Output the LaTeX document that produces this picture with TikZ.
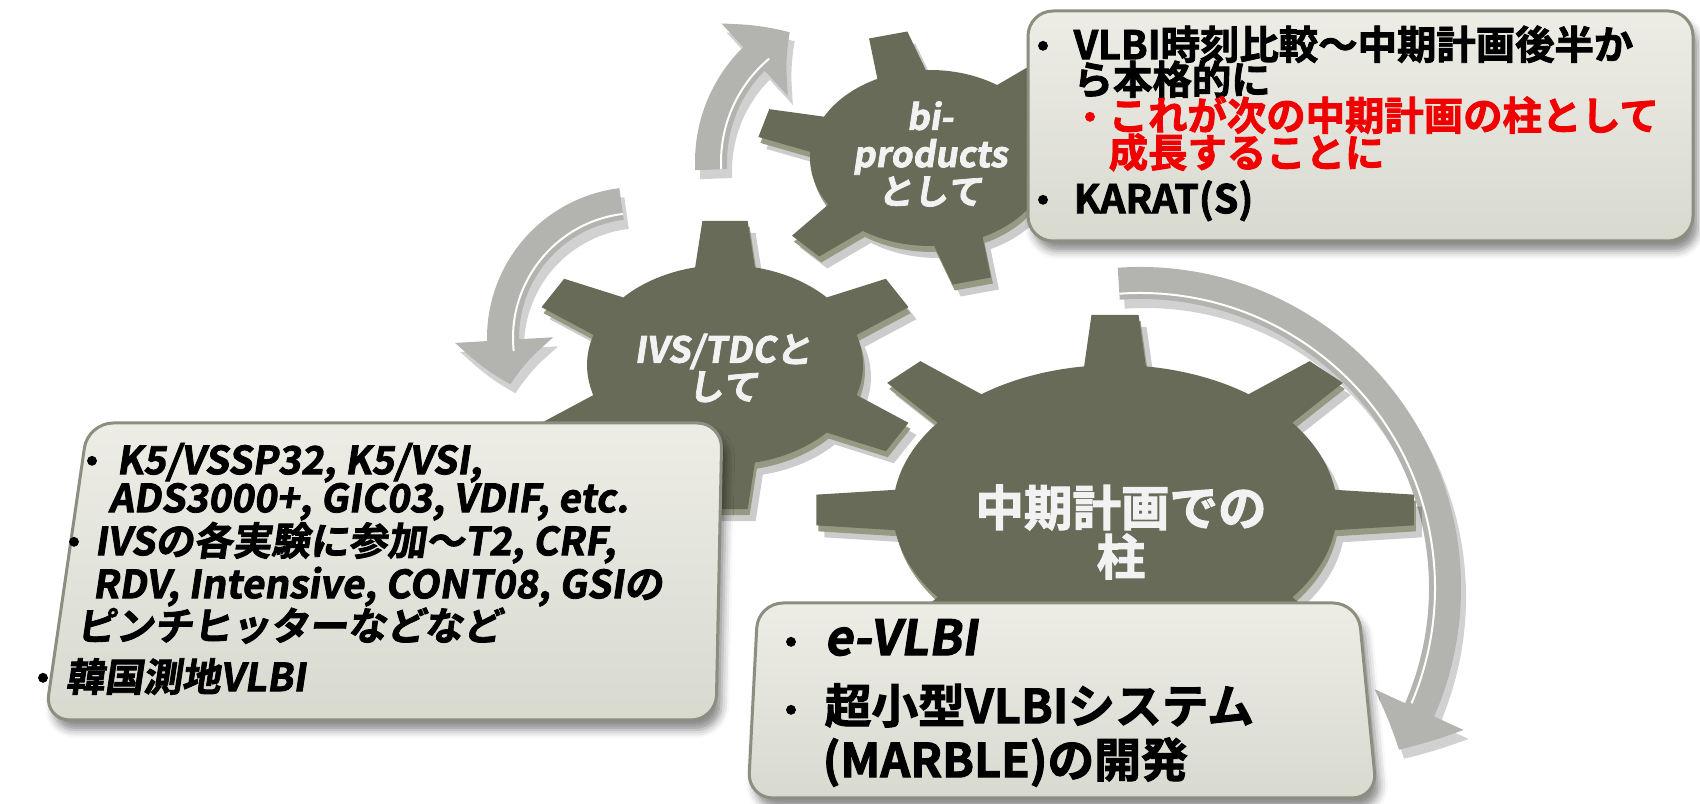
\documentclass[tikz,border=0pt]{standalone}
\usepackage{fontspec}
\setmainfont{Noto Sans CJK JP}
\newfontfamily\jpb{Noto Sans CJK JP}[UprightFont={* Bold}, FakeBold=2.2]
\newfontfamily\jpbi{Noto Sans CJK JP}[UprightFont={* Bold}, FakeBold=2.2, FakeSlant=0.15]
\usetikzlibrary{arrows.meta,bending,shadows.blur}
\definecolor{gearface}{HTML}{676B58}
\definecolor{gearside}{HTML}{969A82}
\definecolor{boxtop}{HTML}{EDEDE6}
\definecolor{boxbot}{HTML}{D8D9CF}
\definecolor{boxline}{HTML}{8C8F80}
\definecolor{arrowgray}{HTML}{B3B4B0}
\definecolor{txtred}{HTML}{F00000}
\newcommand{\gearpath}[8]{%
 \begin{scope}[shift={(#2,#3)},xscale=#4,yscale=#5]
  \pgfmathsetmacro{\gst}{360/\gn}
  \pgfmathtruncatemacro{\gnm}{\gn-1}
  \path[#1] ({#6-#7}:1)
   \foreach \k in {0,...,\gnm}{
     -- ({#6+\k*\gst-#8}:\grt) -- ({#6+\k*\gst+#8}:\grt) -- ({#6+\k*\gst+#7}:1)
     arc[start angle={#6+\k*\gst+#7}, end angle={#6+(\k+1)*\gst-#7}, radius=1]
   } -- cycle;
 \end{scope}}
\newcommand{\fullgear}[7]{%
 \gearpath{fill=black,opacity=0.2}{#1+8}{#2-12}{#3}{#4}{#5}{#6}{#7}%
 \gearpath{fill=gearside}{#1+2}{#2-6}{#3}{#4}{#5}{#6}{#7}%
 \gearpath{fill=gearface}{#1}{#2}{#3}{#4}{#5}{#6}{#7}}
\tikzset{
  arr/.style={draw=arrowgray, line width=0.32cm, -{Triangle[width=0.95cm, length=0.45cm, bend]}},
  arrsh/.style={draw=black, line width=0.32cm, -{Triangle[width=0.95cm, length=0.45cm, bend]}},
  hl/.style={draw=white, line width=0.02cm},
  boxshape/.style={top color=boxtop, bottom color=boxbot, draw=boxline, line width=0.03cm,
     rounded corners=0.25cm,
     blur shadow={shadow xshift=0.05cm, shadow yshift=-0.1cm, shadow blur radius=0.08cm, shadow opacity=45}},
  tx/.style={anchor=west, inner sep=0pt, text height=0.85em, text depth=0.1em},
  t11/.style={tx, font=\jpb\fontsize{11.2pt}{12pt}\selectfont},
  t10/.style={tx, font=\jpbi\fontsize{11pt}{12pt}\selectfont},
  t12/.style={tx, font=\jpb\fontsize{13.3pt}{14pt}\selectfont},
  t12i/.style={tx, font=\jpbi\fontsize{13.8pt}{14pt}\selectfont},
  bul/.style={anchor=center, inner sep=0pt, text height=0.85em, text depth=0.1em, font=\jpb\fontsize{10pt}{11pt}\selectfont},
  gtxt/.style={anchor=center, inner sep=0pt, align=center, text=white!95!black},
}
\begin{document}
\begin{tikzpicture}[x=0.01cm,y=0.01cm]
\useasboundingbox (0,0) rectangle (1700,803);
% ---------- arrows ----------
\coordinate (a1c) at (856,641);
\coordinate (a2c) at (638,465);
\coordinate (a3c) at (1140,215);
\coordinate (a1s) at ([shift={(183:145)}]a1c);
\coordinate (a2s) at ([shift={(97:135)}]a2c);
\coordinate (a3s) at ([shift={(94:305)}]a3c);
\begin{scope}[transparency group, opacity=0.18, transform canvas={shift={(0.05cm,-0.09cm)}}]
  \draw[arrsh] (a1s) arc[start angle=183, end angle=117, radius=145];
  \draw[arrsh] (a2s) arc[start angle=97, end angle=200, radius=135];
  \draw[arrsh] (a3s) arc[start angle=94, end angle=-32, radius=305];
\end{scope}
\draw[arr] (a1s) arc[start angle=183, end angle=117, radius=145];
\draw[arr] (a2s) arc[start angle=97, end angle=200, radius=135];
\draw[arr] (a3s) arc[start angle=94, end angle=-32, radius=305];
\draw[hl] ([shift={(183:135)}]a1c) arc[start angle=183, end angle=130, radius=135];
\draw[hl] ([shift={(97:125)}]a2c) arc[start angle=97, end angle=186, radius=125];
\draw[hl] ([shift={(94:295)}]a3c) arc[start angle=94, end angle=-23, radius=295];
% ---------- gears ----------
\def\gn{6}\def\grt{1.45}
\fullgear{725}{438}{138}{100}{90}{12.5}{6.5}
\fullgear{930}{645}{120}{88}{104}{12}{6.5}
\def\gn{8}\def\grt{1.35}
\fullgear{1115}{293}{222}{145}{90}{8}{4.5}
\node[gtxt, font=\jpbi\fontsize{10pt}{10.6pt}\selectfont] (g1t) at (930,649) {bi-\\products\\として};
\node[gtxt, font=\jpbi\fontsize{10.2pt}{10.6pt}\selectfont] (g2t) at (723,435) {IVS/TDCと\\して};
\node[gtxt, font=\jpb\fontsize{13.8pt}{14pt}\selectfont] (g3t) at (1121,271) {中期計画での\\柱};
% ---------- boxes ----------
\path[boxshape] (1028,792) -- (1693,792) -- (1693,562) -- (1028,562) -- cycle;
\path[boxshape] (88,380) -- (722,380) -- (716,83) -- (45,83) -- cycle;
\path[boxshape] (758,200) -- (1358,200) -- (1377,5) -- (748,5) -- cycle;
% top-right box text
\node[bul] (b1) at (1043,757) {・};
\node[t11] (t1a) at (1073,757) {VLBI時刻比較～中期計画後半か};
\node[t11] (t1b) at (1073,722) {ら本格的に};
\node[bul,text=txtred] (b2) at (1090,686) {・};
\node[t11,text=txtred] (t2a) at (1108,686) {これが次の中期計画の柱として};
\node[t11,text=txtred] (t2b) at (1108,649) {成長することに};
\node[bul] (b3) at (1043,603) {・};
\node[t11] (t3) at (1073,603) {KARAT(S)};
% left box text
\node[bul] (l1b) at (92,342) {・};
\node[t10] (l1a) at (116,342) {K5/VSSP32, K5/VSI,};
\node[t10] (l1c) at (108,304) {ADS3000+, GIC03, VDIF, etc.};
\node[bul] (l2b) at (74,261) {・};
\node[t10] (l2a) at (94,261) {IVSの各実験に参加～T2, CRF,};
\node[t10] (l2c) at (92,218) {RDV, Intensive, CONT08, GSIの};
\node[t10] (l2d) at (76,176) {ピンチヒッターなどなど};
\node[bul] (l3b) at (43,125) {・};
\node[t10] (l3a) at (65,125) {韓国測地VLBI};
% bottom box text
\node[bul] (r1b) at (791,161) {・};
\node[t12i] (r1a) at (824,161) {e-VLBI};
\node[bul] (r2b) at (791,93) {・};
\node[t12] (r2a) at (824,93) {超小型VLBIシステム};
\node[t12] (r2c) at (822,39) {(MARBLE)の開発};
\end{tikzpicture}
\end{document}
